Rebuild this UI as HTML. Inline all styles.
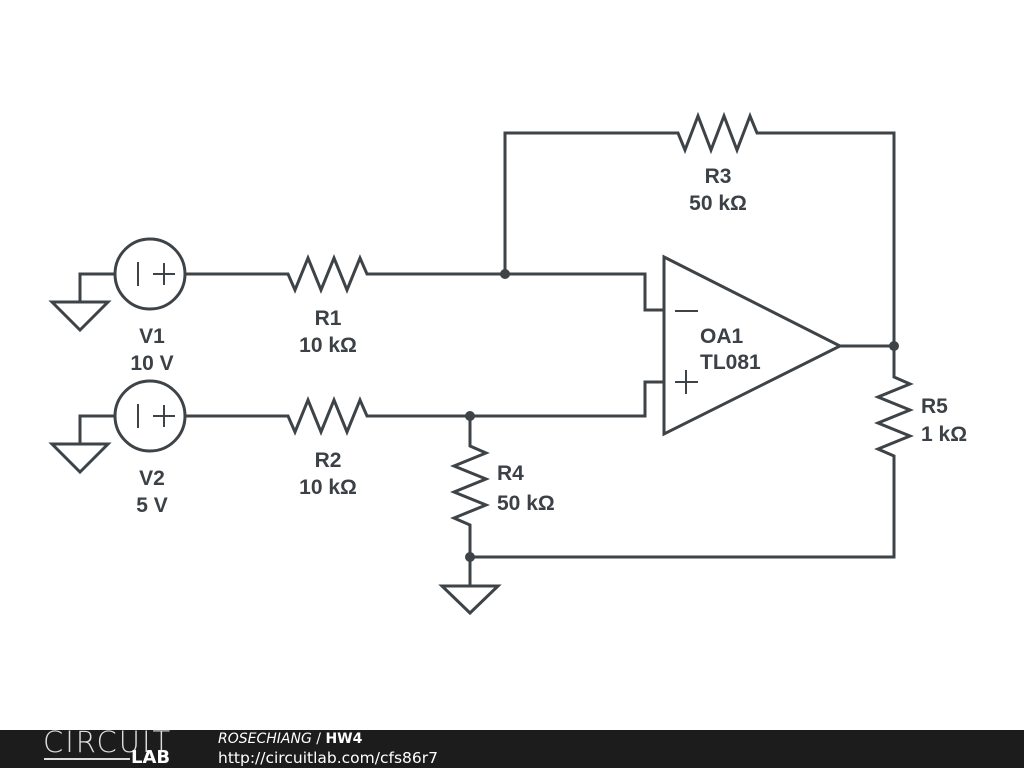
<!DOCTYPE html>
<html><head><meta charset="utf-8"><style>
body{margin:0;width:1024px;height:768px;background:#fff;overflow:hidden;position:relative;font-family:"Liberation Sans","DejaVu Sans",sans-serif}
svg{position:absolute;left:0;top:0}
.t{font-weight:bold;font-size:21px;fill:#3b4146;font-family:"Liberation Sans","DejaVu Sans",sans-serif}
#foot{position:absolute;left:0;top:730px;width:1024px;height:38px;background:#1c1c1c;color:#fff;font-family:"DejaVu Sans",sans-serif}
</style></head><body>
<svg width="1024" height="768" viewBox="0 0 1024 768">
<g fill="none" stroke="#3d4347" stroke-width="3" stroke-linejoin="miter">
<circle cx="150" cy="274" r="35"/>
<path d="M115 274H80V302"/>
<path d="M52 302H108L80 330Z"/>
<path d="M138 262V286M153 274H175M164 263V285" stroke-width="2"/>
<circle cx="150" cy="416" r="35"/>
<path d="M115 416H80V444"/>
<path d="M52 444H108L80 472Z"/>
<path d="M138 404V428M153 416H175M164 405V427" stroke-width="2"/>
<path d="M185 274H288L295 290L308 258L321 290L334 258L347 290L360 258L367 274H645V310H664"/>
<path d="M185 416H288L295 432L308 400L321 432L334 400L347 432L360 400L367 416H645V382H664"/>
<path d="M505 274V133H678L685 150L698 116L711 150L724 116L737 150L750 116L757 133H894V346"/>
<path d="M664 257V434L840 346Z"/>
<path d="M840 346H894"/>
<path d="M675 311H698M675 382H698M686 370V394" stroke-width="2"/>
<path d="M470 416V446L486 453L454 466L486 479L454 492L486 505L454 518L470 525V557H894V456L878 449L910 436L878 423L910 410L878 397L910 384L894 377V346"/>
<path d="M470 557V586"/>
<path d="M442 586H498L470 613Z"/>
</g>
<g fill="#3d4347">
<circle cx="505" cy="274" r="5"/>
<circle cx="470" cy="416" r="5"/>
<circle cx="470" cy="557" r="5"/>
<circle cx="894" cy="346" r="5"/>
</g>
<g class="t" text-anchor="middle">
<text x="152" y="343">V1</text><text x="152" y="370">10 V</text>
<text x="152" y="485">V2</text><text x="152" y="512">5 V</text>
<text x="328" y="325">R1</text><text x="328" y="352">10 kΩ</text>
<text x="328" y="467">R2</text><text x="328" y="494">10 kΩ</text>
<text x="718" y="183">R3</text><text x="718" y="210">50 kΩ</text>
</g>
<g class="t">
<text x="497" y="480">R4</text><text x="497" y="510">50 kΩ</text>
<text x="921" y="413">R5</text><text x="921" y="441">1 kΩ</text>
<text x="700" y="343">OA1</text><text x="700" y="369">TL081</text>
</g>
</svg>
<div id="foot">
<div style="position:absolute;left:43px;top:-3px;font-size:29px;font-weight:200;line-height:30px;color:#ddd;letter-spacing:2px">CIRCUIT</div>
<div style="position:absolute;left:44px;top:28px;width:86px;height:2px;background:#ddd"></div>
<div style="position:absolute;left:131px;top:18px;font-size:18px;font-weight:bold;line-height:19px">LAB</div>
<div style="position:absolute;left:218px;top:1px;font-size:14px;line-height:17px"><i>ROSECHIANG</i> / <b>HW4</b></div>
<div style="position:absolute;left:218px;top:19px;font-size:15.5px;line-height:18px">http://circuitlab.com/cfs86r7</div>
</div>
</body></html>
